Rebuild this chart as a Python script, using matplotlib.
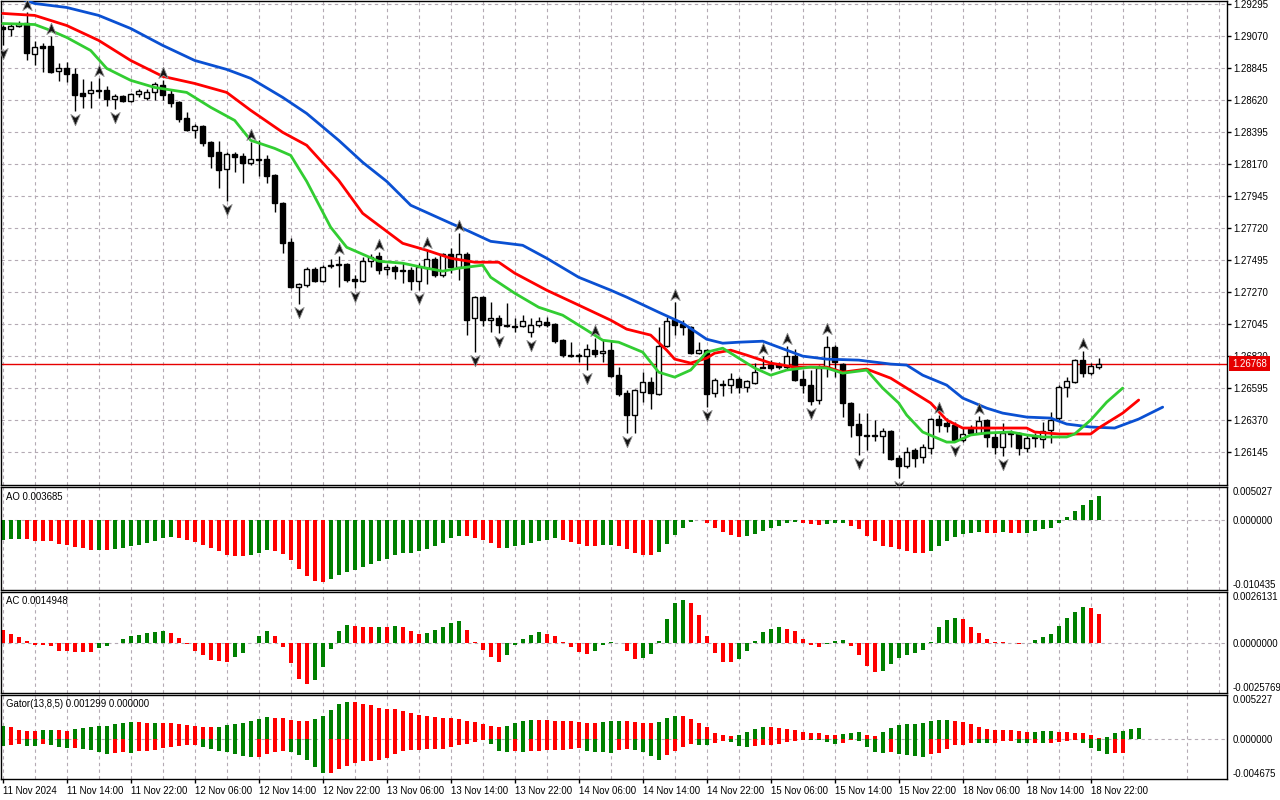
import numpy as np
import matplotlib
matplotlib.use('Agg')
import matplotlib.pyplot as plt
from matplotlib.path import Path
import matplotlib.transforms as mtransforms

plt.rcParams['font.family'] = ['Liberation Sans', 'DejaVu Sans']
FS = 6.9

# ---------------- data (H1 bars, 11 Nov 06:00 .. 18 Nov 23:00) ----------------
open_ = [1.29133, 1.29119, 1.29147, 1.29168, 1.28943, 1.29000, 1.29000, 1.28824, 1.28845, 1.28803,
         1.28669, 1.28669, 1.28690, 1.28690, 1.28627, 1.28648, 1.28613, 1.28662, 1.28634, 1.28676,
         1.28725, 1.28662, 1.28606, 1.28493, 1.28409, 1.28437, 1.28325, 1.28254, 1.28135, 1.28240,
         1.28226, 1.28177, 1.28205, 1.28205, 1.28093, 1.27896, 1.27622, 1.27305, 1.27319, 1.27432,
         1.27347, 1.27453, 1.27467, 1.27467, 1.27361, 1.27347, 1.27488, 1.27523, 1.27432, 1.27446,
         1.27425, 1.27425, 1.27347, 1.27439, 1.27502, 1.27390, 1.27537, 1.27446, 1.27537, 1.27087,
         1.27235, 1.27073, 1.27087, 1.27038, 1.27031, 1.27031, 1.26989, 1.27038, 1.27059, 1.27045,
         1.26932, 1.26827, 1.26827, 1.26820, 1.26862, 1.26841, 1.26862, 1.26686, 1.26560, 1.26405,
         1.26567, 1.26637, 1.26553, 1.26890, 1.27073, 1.27045, 1.27024, 1.26841, 1.26862, 1.26560,
         1.26623, 1.26616, 1.26658, 1.26602, 1.26630, 1.26743, 1.26757, 1.26764, 1.26743, 1.26820,
         1.26658, 1.26616, 1.26511, 1.26743, 1.26883, 1.26764, 1.26490, 1.26342, 1.26265, 1.26265,
         1.26258, 1.26293, 1.26103, 1.26047, 1.26159, 1.26110, 1.26173, 1.26377, 1.26349, 1.26335,
         1.26229, 1.26307, 1.26279, 1.26370, 1.26251, 1.26180, 1.26279, 1.26279, 1.26173, 1.26251,
         1.26236, 1.26300, 1.26384, 1.26602, 1.26637, 1.26792, 1.26700, 1.26743]
high = [1.29154, 1.29168, 1.29182, 1.29239, 1.29035, 1.29021, 1.29070, 1.28880, 1.28887, 1.28845,
        1.28768, 1.28754, 1.28775, 1.28718, 1.28662, 1.28655, 1.28669, 1.28697, 1.28697, 1.28747,
        1.28761, 1.28690, 1.28613, 1.28536, 1.28451, 1.28444, 1.28332, 1.28332, 1.28254, 1.28254,
        1.28247, 1.28325, 1.28339, 1.28233, 1.28100, 1.27903, 1.27650, 1.27333, 1.27446, 1.27446,
        1.27460, 1.27502, 1.27523, 1.27474, 1.27390, 1.27516, 1.27537, 1.27551, 1.27467, 1.27460,
        1.27474, 1.27446, 1.27474, 1.27565, 1.27516, 1.27544, 1.27579, 1.27685, 1.27551, 1.27242,
        1.27242, 1.27200, 1.27108, 1.27193, 1.27087, 1.27108, 1.27087, 1.27094, 1.27094, 1.27052,
        1.26940, 1.26918, 1.26841, 1.26904, 1.26946, 1.26932, 1.26932, 1.26743, 1.26581, 1.26588,
        1.26707, 1.26672, 1.27024, 1.27094, 1.27200, 1.27073, 1.27031, 1.26918, 1.26869, 1.26665,
        1.26651, 1.26700, 1.26672, 1.26651, 1.26771, 1.26820, 1.26792, 1.26778, 1.26890, 1.26869,
        1.26722, 1.26722, 1.26757, 1.26961, 1.26897, 1.26771, 1.26496, 1.26419, 1.26419, 1.26370,
        1.26314, 1.26300, 1.26124, 1.26180, 1.26173, 1.26201, 1.26384, 1.26405, 1.26384, 1.26356,
        1.26321, 1.26335, 1.26398, 1.26377, 1.26286, 1.26349, 1.26300, 1.26286, 1.26265, 1.26279,
        1.26356, 1.26426, 1.26616, 1.26672, 1.26799, 1.26855, 1.26771, 1.26806]
low = [1.29007, 1.29070, 1.29133, 1.28901, 1.28866, 1.28817, 1.28810, 1.28754, 1.28747, 1.28543,
       1.28564, 1.28564, 1.28634, 1.28578, 1.28557, 1.28606, 1.28606, 1.28641, 1.28620, 1.28620,
       1.28620, 1.28571, 1.28465, 1.28402, 1.28353, 1.28297, 1.28142, 1.28001, 1.27910, 1.28114,
       1.28036, 1.28163, 1.28085, 1.28036, 1.27832, 1.27544, 1.27298, 1.27186, 1.27305, 1.27340,
       1.27340, 1.27439, 1.27305, 1.27340, 1.27298, 1.27340, 1.27446, 1.27396, 1.27390, 1.27361,
       1.27333, 1.27284, 1.27284, 1.27326, 1.27375, 1.27375, 1.27403, 1.27354, 1.26968, 1.26848,
       1.27031, 1.26989, 1.26982, 1.27024, 1.26989, 1.27024, 1.26954, 1.27024, 1.27024, 1.26911,
       1.26813, 1.26813, 1.26778, 1.26722, 1.26813, 1.26778, 1.26672, 1.26539, 1.26279, 1.26279,
       1.26496, 1.26447, 1.26546, 1.26883, 1.26968, 1.26968, 1.26834, 1.26834, 1.26461, 1.26532,
       1.26539, 1.26560, 1.26560, 1.26567, 1.26623, 1.26736, 1.26722, 1.26729, 1.26722, 1.26644,
       1.26560, 1.26475, 1.26482, 1.26672, 1.26672, 1.26391, 1.26251, 1.26124, 1.26159, 1.26222,
       1.26138, 1.26089, 1.25962, 1.26033, 1.26040, 1.26068, 1.26131, 1.26286, 1.26286, 1.26215,
       1.26215, 1.26272, 1.26272, 1.26180, 1.26131, 1.26117, 1.26180, 1.26124, 1.26145, 1.26180,
       1.26173, 1.26208, 1.26370, 1.26532, 1.26630, 1.26672, 1.26686, 1.26729]
close = [1.29119, 1.29147, 1.29161, 1.28950, 1.28993, 1.28986, 1.28817, 1.28845, 1.28803, 1.28655,
         1.28648, 1.28690, 1.28683, 1.28627, 1.28648, 1.28613, 1.28662, 1.28683, 1.28676, 1.28732,
         1.28655, 1.28599, 1.28486, 1.28409, 1.28437, 1.28318, 1.28226, 1.28128, 1.28240, 1.28219,
         1.28177, 1.28205, 1.28198, 1.28085, 1.27896, 1.27615, 1.27305, 1.27326, 1.27432, 1.27347,
         1.27446, 1.27460, 1.27460, 1.27354, 1.27347, 1.27488, 1.27516, 1.27425, 1.27446, 1.27418,
         1.27418, 1.27347, 1.27446, 1.27502, 1.27390, 1.27537, 1.27446, 1.27537, 1.27073, 1.27235,
         1.27073, 1.27087, 1.27038, 1.27031, 1.27024, 1.27066, 1.27038, 1.27066, 1.27038, 1.26925,
         1.26827, 1.26820, 1.26820, 1.26869, 1.26834, 1.26855, 1.26679, 1.26553, 1.26405, 1.26581,
         1.26637, 1.26560, 1.26890, 1.27066, 1.27038, 1.27024, 1.26841, 1.26862, 1.26553, 1.26651,
         1.26616, 1.26658, 1.26602, 1.26644, 1.26707, 1.26739, 1.26736, 1.26743, 1.26820, 1.26651,
         1.26616, 1.26504, 1.26736, 1.26883, 1.26778, 1.26490, 1.26335, 1.26265, 1.26258, 1.26258,
         1.26293, 1.26096, 1.26047, 1.26145, 1.26103, 1.26180, 1.26377, 1.26335, 1.26328, 1.26229,
         1.26272, 1.26279, 1.26363, 1.26251, 1.26180, 1.26279, 1.26272, 1.26173, 1.26243, 1.26243,
         1.26293, 1.26370, 1.26602, 1.26644, 1.26792, 1.26700, 1.26750, 1.26768]

fractal_up = [3, 6, 12, 20, 31, 42, 47, 53, 57, 74, 84, 95, 98, 103, 117, 122, 135]
fractal_down = [0, 9, 14, 28, 37, 44, 52, 59, 62, 66, 73, 78, 88, 101, 107, 112, 119, 125]

# Alligator (jaw shifted 8, teeth 5, lips 3 bars into the future)
jaw_idx = [0, 4, 8, 12, 16, 20, 24, 28, 31, 35, 38, 42, 45, 48, 51, 56, 58, 61, 65, 68, 72, 76, 78,
           82, 85, 88, 90, 92, 95, 97, 100, 103, 107, 111, 113, 115, 118, 120, 123, 125, 128, 131,
           133, 136, 139, 142, 145]
jaw = [1.29379, 1.29302, 1.29274, 1.29218, 1.29126, 1.29007, 1.28901, 1.28838, 1.28775, 1.28641,
       1.28528, 1.28339, 1.28184, 1.28050, 1.27882, 1.27755, 1.27706, 1.27628, 1.27600, 1.27509,
       1.27375, 1.27284, 1.27235, 1.27129, 1.27052, 1.26939, 1.26911, 1.26918, 1.26925, 1.26883,
       1.26820, 1.26799, 1.26792, 1.26764, 1.26757, 1.26686, 1.26616, 1.26525, 1.26454, 1.26419,
       1.26391, 1.26384, 1.26342, 1.26321, 1.26314, 1.26377, 1.26461]
teeth_idx = [0, 4, 8, 12, 16, 20, 24, 28, 31, 35, 38, 42, 45, 50, 53, 56, 59, 62, 64, 68, 72, 76, 78,
             81, 83, 84, 86, 88, 89, 91, 93, 96, 99, 103, 105, 108, 111, 113, 116, 118, 120, 123,
             128, 129, 132, 136, 137, 140, 142]
teeth = [1.29232, 1.29218, 1.29147, 1.29042, 1.28901, 1.28789, 1.28739, 1.28676, 1.28550, 1.28395,
         1.28304, 1.28057, 1.27825, 1.27614, 1.27565, 1.27509, 1.27481, 1.27481, 1.27404, 1.27284,
         1.27179, 1.27073, 1.27010, 1.26968, 1.26862, 1.26799, 1.26771, 1.26806, 1.26841, 1.26862,
         1.26827, 1.26771, 1.26743, 1.26743, 1.26707, 1.26729, 1.26665, 1.26595, 1.26490, 1.26370,
         1.26314, 1.26314, 1.26314, 1.26286, 1.26272, 1.26272, 1.26314, 1.26419, 1.26511]
lips_idx = [0, 4, 6, 8, 11, 13, 16, 19, 23, 26, 29, 31, 34, 36, 38, 41, 43, 47, 50, 53, 55, 57, 60,
            61, 64, 67, 70, 73, 75, 77, 80, 82, 84, 86, 88, 90, 92, 94, 96, 98, 101, 103, 105, 108,
            110, 112, 113, 115, 118, 119, 121, 123, 126, 128, 130, 133, 134, 136, 138, 140]
lips = [1.29161, 1.29154, 1.29112, 1.29063, 1.28971, 1.28845, 1.28761, 1.28711, 1.28676, 1.28571,
        1.28479, 1.28339, 1.28282, 1.28233, 1.28050, 1.27727, 1.27586, 1.27488, 1.27474, 1.27439,
        1.27418, 1.27439, 1.27460, 1.27375, 1.27263, 1.27164, 1.27108, 1.27003, 1.26932, 1.26918,
        1.26848, 1.26707, 1.26672, 1.26722, 1.26848, 1.26876, 1.26806, 1.26736, 1.26686, 1.26722,
        1.26743, 1.26736, 1.26700, 1.26722, 1.26595, 1.26490, 1.26405, 1.26286, 1.26215, 1.26215,
        1.26265, 1.26279, 1.26286, 1.26265, 1.26251, 1.26251, 1.26272, 1.26370, 1.26496, 1.26595]

ao = [-0.00291, -0.00281, -0.00280, -0.00283, -0.00301, -0.00303, -0.00305, -0.00347, -0.00367, -0.00393,
      -0.00408, -0.00439, -0.00437, -0.00440, -0.00423, -0.00408, -0.00383, -0.00362, -0.00332, -0.00301,
      -0.00270, -0.00255, -0.00257, -0.00291, -0.00316, -0.00362, -0.00408, -0.00454, -0.00515, -0.00536,
      -0.00537, -0.00515, -0.00485, -0.00439, -0.00454, -0.00500, -0.00592, -0.00730, -0.00837, -0.00913,
      -0.00928, -0.00883, -0.00821, -0.00775, -0.00740, -0.00699, -0.00653, -0.00607, -0.00576, -0.00515,
      -0.00485, -0.00484, -0.00454, -0.00423, -0.00383, -0.00332, -0.00270, -0.00230, -0.00231, -0.00260,
      -0.00291, -0.00332, -0.00413, -0.00412, -0.00383, -0.00362, -0.00332, -0.00306, -0.00291, -0.00270,
      -0.00291, -0.00321, -0.00352, -0.00383, -0.00384, -0.00367, -0.00366, -0.00383, -0.00423, -0.00485,
      -0.00515, -0.00516, -0.00469, -0.00347, -0.00214, -0.00117, -0.00026, 0.00008, -0.00041, -0.00117,
      -0.00179, -0.00214, -0.00245, -0.00240, -0.00199, -0.00153, -0.00117, -0.00087, -0.00036, -0.00026,
      -0.00041, -0.00056, -0.00071, -0.00056, -0.00045, -0.00040, -0.00077, -0.00133, -0.00230, -0.00306,
      -0.00383, -0.00398, -0.00428, -0.00459, -0.00490, -0.00491, -0.00459, -0.00383, -0.00306, -0.00245,
      -0.00199, -0.00184, -0.00168, -0.00184, -0.00185, -0.00168, -0.00184, -0.00185, -0.00183, -0.00163,
      -0.00133, -0.00107, -0.00041, 0.00046, 0.00138, 0.00230, 0.00306, 0.003685]
ac = [0.00066, 0.00047, 0.00031, 0.00010, -0.00010, -0.00012, -0.00014, -0.00040, -0.00042, -0.00045,
      -0.00046, -0.00047, -0.00026, -0.00014, -0.00003, 0.00021, 0.00033, 0.00042, 0.00052, 0.00058,
      0.00063, 0.00052, 0.00026, -0.00007, -0.00040, -0.00061, -0.00087, -0.00093, -0.00100, -0.00072,
      -0.00051, 0.00001, 0.00037, 0.00063, 0.00037, -0.00019, -0.00103, -0.00187, -0.00213, -0.00192,
      -0.00124, -0.00030, 0.00063, 0.00094, 0.00087, 0.00080, 0.00079, 0.00084, 0.00083, 0.00089,
      0.00079, 0.00059, 0.00047, 0.00052, 0.00068, 0.00079, 0.00100, 0.00110, 0.00068, 0.00005,
      -0.00035, -0.00072, -0.00098, -0.00061, -0.00009, 0.00021, 0.00042, 0.00058, 0.00047, 0.00037,
      0.00005, -0.00019, -0.00045, -0.00056, -0.00040, -0.00009, 0.00005, -0.00003, -0.00040, -0.00082,
      -0.00077, -0.00056, 0.00010, 0.00121, 0.00204, 0.00220, 0.00204, 0.00142, 0.00037, -0.00051,
      -0.00098, -0.00099, -0.00082, -0.00040, 0.00010, 0.00058, 0.00073, 0.00079, 0.00073, 0.00063,
      0.00021, -0.00009, -0.00019, -0.00005, 0.00010, 0.00016, -0.00014, -0.00061, -0.00119, -0.00150,
      -0.00145, -0.00108, -0.00077, -0.00061, -0.00051, -0.00035, 0.00005, 0.00079, 0.00115, 0.00126,
      0.00121, 0.00084, 0.00052, 0.00021, 0.00005, 0.00004, -0.00001, -0.00006, -0.00002, 0.00016,
      0.00031, 0.00047, 0.00089, 0.00126, 0.00159, 0.00183, 0.00178, 0.0014948]
gator_up = [0.00159, 0.00143, 0.00115, 0.00103, 0.00096, 0.00107, 0.00108, 0.00106, 0.00096, 0.00119,
            0.00131, 0.00143, 0.00159, 0.00161, 0.00179, 0.00191, 0.00203, 0.00202, 0.00191, 0.00192,
            0.00190, 0.00189, 0.00179, 0.00167, 0.00155, 0.00143, 0.00142, 0.00144, 0.00167, 0.00179,
            0.00191, 0.00215, 0.00239, 0.00263, 0.00251, 0.00250, 0.00227, 0.00215, 0.00214, 0.00239,
            0.00275, 0.00346, 0.00418, 0.00442, 0.00441, 0.00418, 0.00406, 0.00370, 0.00358, 0.00354,
            0.00330, 0.00310, 0.00287, 0.00275, 0.00263, 0.00251, 0.00250, 0.00239, 0.00215, 0.00203,
            0.00179, 0.00155, 0.00143, 0.00155, 0.00191, 0.00215, 0.00227, 0.00226, 0.00225, 0.00215,
            0.00214, 0.00213, 0.00203, 0.00191, 0.00190, 0.00203, 0.00215, 0.00216, 0.00214, 0.00203,
            0.00191, 0.00190, 0.00203, 0.00251, 0.00275, 0.00274, 0.00239, 0.00191, 0.00143, 0.00072,
            0.00048, 0.00036, 0.00048, 0.00084, 0.00119, 0.00143, 0.00142, 0.00131, 0.00119, 0.00107,
            0.00084, 0.00072, 0.00071, 0.00048, 0.00047, 0.00060, 0.00072, 0.00084, 0.00048, 0.00036,
            0.00084, 0.00131, 0.00167, 0.00179, 0.00180, 0.00191, 0.00215, 0.00227, 0.00228, 0.00211,
            0.00207, 0.00183, 0.00147, 0.00123, 0.00111, 0.00110, 0.00109, 0.00100, 0.00088, 0.00089,
            0.00100, 0.00101, 0.00088, 0.00087, 0.00076, 0.00075, 0.00052, 0.00016, 0.00028, 0.00076,
            0.00100, 0.00123, 0.001299]
gator_down = [-0.00080, -0.00068, -0.00056, -0.00080, -0.00081, -0.00056, -0.00068, -0.00092, -0.00107, -0.00106,
              -0.00119, -0.00131, -0.00155, -0.00167, -0.00163, -0.00155, -0.00156, -0.00143, -0.00142, -0.00131,
              -0.00107, -0.00092, -0.00080, -0.00068, -0.00067, -0.00092, -0.00119, -0.00143, -0.00155, -0.00167,
              -0.00191, -0.00211, -0.00203, -0.00175, -0.00155, -0.00143, -0.00155, -0.00179, -0.00239, -0.00322,
              -0.00394, -0.00393, -0.00346, -0.00310, -0.00275, -0.00259, -0.00251, -0.00239, -0.00215, -0.00167,
              -0.00143, -0.00131, -0.00130, -0.00119, -0.00118, -0.00117, -0.00096, -0.00068, -0.00056, -0.00032,
              -0.00008, -0.00060, -0.00143, -0.00155, -0.00143, -0.00155, -0.00143, -0.00142, -0.00131, -0.00130,
              -0.00129, -0.00119, -0.00107, -0.00143, -0.00144, -0.00155, -0.00156, -0.00131, -0.00119, -0.00120,
              -0.00155, -0.00191, -0.00239, -0.00187, -0.00143, -0.00092, -0.00060, -0.00068, -0.00069, -0.00044,
              -0.00020, -0.00032, -0.00080, -0.00092, -0.00080, -0.00068, -0.00067, -0.00056, -0.00032, -0.00020,
              -0.00008, -0.00010, -0.00012, -0.00032, -0.00056, -0.00044, -0.00010, -0.00020, -0.00092, -0.00151,
              -0.00163, -0.00151, -0.00167, -0.00179, -0.00191, -0.00203, -0.00175, -0.00163, -0.00115, -0.00068,
              -0.00067, -0.00040, -0.00041, -0.00042, -0.00040, -0.00016, -0.00015, -0.00040, -0.00041, -0.00040,
              -0.00041, -0.00040, -0.00028, -0.00016, -0.00004, -0.00040, -0.00100, -0.00135, -0.00171, -0.00159,
              -0.00158]

time_labels = ['11 Nov 2024', '11 Nov 14:00', '11 Nov 22:00', '12 Nov 06:00', '12 Nov 14:00',
               '12 Nov 22:00', '13 Nov 06:00', '13 Nov 14:00', '13 Nov 22:00', '14 Nov 06:00',
               '14 Nov 14:00', '14 Nov 22:00', '15 Nov 06:00', '15 Nov 14:00', '15 Nov 22:00',
               '18 Nov 06:00', '18 Nov 14:00', '18 Nov 22:00']
price_ticks = [1.29295, 1.29070, 1.28845, 1.28620, 1.28395, 1.28170, 1.27945, 1.27720,
               1.27495, 1.27270, 1.27045, 1.26820, 1.26595, 1.26370, 1.26145]
main_ylim = (1.25913, 1.29323)
ao_lim = (-0.010435, 0.005027)
ac_lim = (-0.0025769, 0.0026131)
gator_lim = (-0.004675, 0.005227)

# ---------------- figure ----------------
o = np.array(open_); h = np.array(high); l = np.array(low); c = np.array(close)
n = len(c)
x = np.arange(n)

W, H = 1280.0, 800.0
fig = plt.figure(figsize=(12.8, 8), dpi=100)
fig.patch.set_facecolor('white')


def rect(x0, y0, x1, y1):
    return [x0 / W, 1 - y1 / H, (x1 - x0) / W, (y1 - y0) / H]


ax = fig.add_axes(rect(1, 0.5, 1227, 485))
ax_ao = fig.add_axes(rect(1, 487, 1227, 590))
ax_ac = fig.add_axes(rect(1, 592, 1227, 693))
ax_g = fig.add_axes(rect(1, 695, 1227, 779))
axes = [ax, ax_ao, ax_ac, ax_g]

GRID = '#b4aab4'
DASH = (0, (3, 3))
XLIM = (-0.2125, 153.04)

for a in axes:
    a.set_xlim(*XLIM)
    a.set_xticks(np.arange(0, 153, 8))
    a.set_xticks(np.arange(4, 153, 8), minor=True)
    a.grid(True, axis='x', which='both', color=GRID, ls=DASH, lw=0.8)
    a.set_axisbelow(True)
    for s in a.spines.values():
        s.set_color('black')
        s.set_linewidth(1.0)
    a.yaxis.tick_right()
    a.tick_params(axis='x', which='both', length=0, labelbottom=False)
    a.tick_params(axis='y', which='both', labelsize=FS, colors='black')

# ---- main panel ----
ax.set_ylim(*main_ylim)
ax.set_yticks(price_ticks)
ax.set_yticklabels(['%.5f' % p for p in price_ticks])
ax.tick_params(axis='y', length=3, width=1, pad=1.5)
ax.grid(True, axis='y', which='major', color=GRID, ls=DASH, lw=0.8)

ax.axhline(c[-1], color='#e60000', lw=1.0, zorder=1.5)

ax.vlines(x, l, h, color='black', lw=1.0, zorder=2)
up = c >= o
ax.bar(x, np.maximum(np.abs(c - o), 1e-7), bottom=np.minimum(o, c), width=0.6,
       color=np.where(up, 'white', 'black'), edgecolor='black', linewidth=1.0, zorder=3)

ax.plot(jaw_idx, jaw, color='#0a50d2', lw=2.0, zorder=4, solid_capstyle='round')
ax.plot(teeth_idx, teeth, color='#ff0000', lw=2.0, zorder=4, solid_capstyle='round')
ax.plot(lips_idx, lips, color='#32cd32', lw=2.0, zorder=4, solid_capstyle='round')

arrow_up = Path([(0, 1), (0.75, -0.8), (0, -0.3), (-0.75, -0.8), (0, 1)],
                [Path.MOVETO, Path.LINETO, Path.LINETO, Path.LINETO, Path.CLOSEPOLY])
arrow_dn = Path([(0, -1), (0.75, 0.8), (0, 0.3), (-0.75, 0.8), (0, -1)],
                [Path.MOVETO, Path.LINETO, Path.LINETO, Path.LINETO, Path.CLOSEPOLY])
tr_up = mtransforms.offset_copy(ax.transData, fig=fig, x=0, y=7, units='dots')
tr_dn = mtransforms.offset_copy(ax.transData, fig=fig, x=0, y=-8, units='dots')
fu = np.array(fractal_up); fd = np.array(fractal_down)
ax.plot(fu, h[fu], ls='none', marker=arrow_up, ms=9, mfc='#141414', mec='#8c8c8c', mew=0.6,
        transform=tr_up, zorder=5)
ax.plot(fd, l[fd], ls='none', marker=arrow_dn, ms=9, mfc='#141414', mec='#8c8c8c', mew=0.6,
        transform=tr_dn, zorder=5)

blend = mtransforms.blended_transform_factory(ax.transAxes, ax.transData)
ax.text(1.0 + 5.0 / 1226, c[-1], '%.5f' % c[-1], transform=blend, ha='left', va='center',
        color='white', fontsize=FS, clip_on=False, zorder=10,
        bbox=dict(boxstyle='square,pad=0.3', fc='#e60000', ec='none'))


# ---- indicator panels ----
def hist_colors(vals, first):
    cols = [first]
    for i in range(1, len(vals)):
        cols.append('#008000' if vals[i] > vals[i - 1] else '#ff0000')
    return cols


def side_labels(a, lim, labels):
    a.set_ylim(*lim)
    a.set_yticks([lim[1], 0.0, lim[0]])
    a.set_yticklabels(labels)
    a.tick_params(axis='y', length=0, pad=4)
    tl = a.get_yticklabels()
    tl[0].set_va('top')
    tl[2].set_va('bottom')
    a.axhline(0, color=GRID, ls=DASH, lw=0.8, zorder=0.5)


aov = np.array(ao)
ax_ao.bar(x[:len(aov)], aov, width=0.5, color=hist_colors(aov, '#008000'), linewidth=0, zorder=2)
side_labels(ax_ao, ao_lim, ['0.005027', '0.000000', '-0.010435'])
ax_ao.text(5 / 1226, 0.903, 'AO %.6f' % ao[-1], transform=ax_ao.transAxes, fontsize=FS, va='center')

acv = np.array(ac)
ax_ac.bar(x[:len(acv)], acv, width=0.5, color=hist_colors(acv, '#ff0000'), linewidth=0, zorder=2)
side_labels(ax_ac, ac_lim, ['0.0026131', '0.0000000', '-0.0025769'])
ax_ac.text(5 / 1226, 0.911, 'AC %.7f' % ac[-1], transform=ax_ac.transAxes, fontsize=FS, va='center')

gu = np.array(gator_up)
gd = np.array(gator_down)
ax_g.bar(np.arange(len(gu)), gu, width=0.5, color=hist_colors(gu, '#008000'), linewidth=0, zorder=2)
ax_g.bar(np.arange(len(gd)), gd, width=0.5, color=hist_colors(-gd, '#008000'), linewidth=0, zorder=2)
side_labels(ax_g, gator_lim, ['0.005227', '0.000000', '-0.004675'])
ax_g.text(5 / 1226, 0.893, 'Gator(13,8,5) %.6f %.6f' % (gator_up[-1], 0.0),
          transform=ax_g.transAxes, fontsize=FS, va='center')

ax_g.set_xticks(np.arange(0, 8 * len(time_labels), 8))
ax_g.set_xticklabels(time_labels)
ax_g.tick_params(axis='x', which='major', length=3, width=1, pad=2, labelbottom=True,
                 labelsize=FS, colors='black')
for t in ax_g.get_xticklabels():
    t.set_ha('left')

fig.savefig('out.png', dpi=100, facecolor='white')
